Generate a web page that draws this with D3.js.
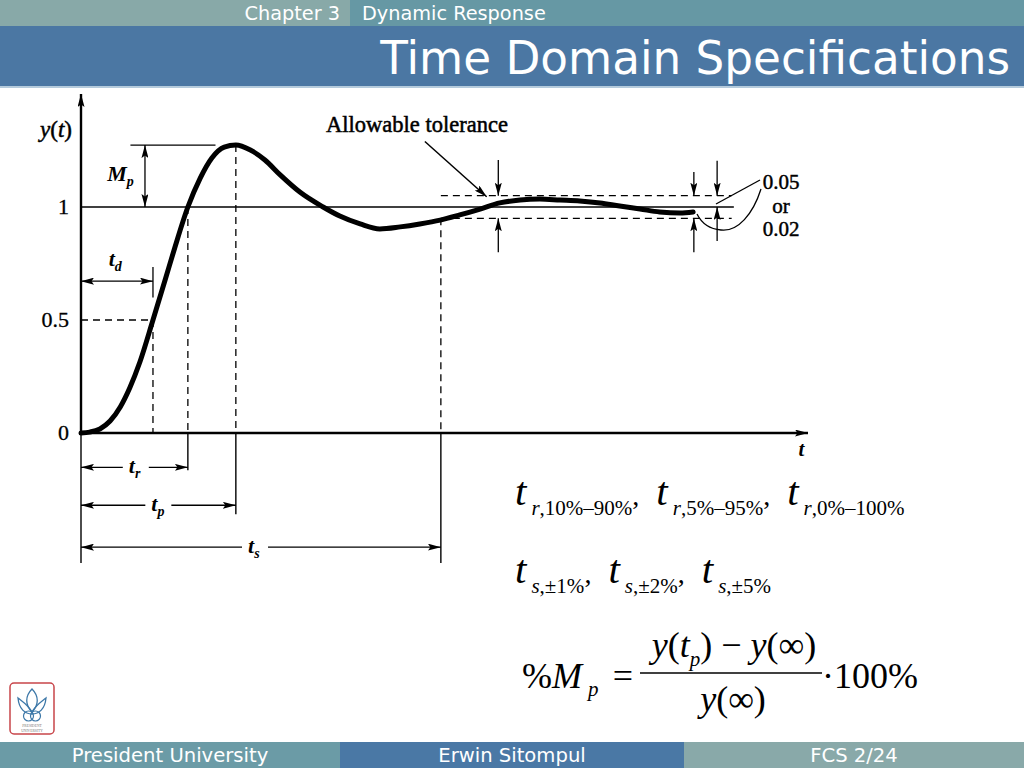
<!DOCTYPE html>
<html><head><meta charset="utf-8">
<script src="https://cdn.jsdelivr.net/npm/d3@7"></script>
<style>html,body{margin:0;padding:0;background:#fff;overflow:hidden}</style>
</head><body><svg id="c" width="1024" height="768"></svg>
<script>
// ---------- data ----------
const timeT = [0,0.12,0.26,0.40,0.54,0.67,0.81,0.99,1.16,1.29,1.47,1.64,1.80,1.97,2.13,2.33,2.53,2.74,3.01,3.33,3.56,3.84,4.11,4.39,4.66,4.94,5.21,5.49,5.76,6.04,6.31,6.59,6.86,7.14,7.41,7.69,7.96,8.24,8.42];
const responseY = [0,0.004,0.018,0.053,0.115,0.199,0.314,0.5,0.68,0.82,1.0,1.128,1.217,1.265,1.274,1.252,1.208,1.142,1.066,1.0,0.960,0.925,0.903,0.912,0.925,0.942,0.965,0.991,1.018,1.031,1.035,1.031,1.027,1.018,1.004,0.991,0.978,0.973,0.978];
const yTickValues = [0, 0.5, 1];
const yTickLabels = ["0", "0.5", "1"];
const specNames = ["td", "tr", "tp", "ts"];
const specTimes = [0.99, 1.47, 2.13, 4.95];
const peakValue = 1.274;
const finalValue = 1;
const toleranceBand = [0.95, 1.05];
const toleranceLabels = ["0.05", "or", "0.02"];
const headerTexts = ["Chapter 3", "Dynamic Response", "Time Domain Specifications"];
const footerTexts = ["President University", "Erwin Sitompul", "FCS 2/24"];

// ---------- setup ----------
const svg = d3.select('#c');
const SERIF = '"Liberation Serif","Times New Roman",serif';
const SANS = '"DejaVu Sans",Verdana,sans-serif';
const spec = {}; specNames.forEach((n,i)=>spec[n]=specTimes[i]);

const x = d3.scaleLinear().domain([0,10]).range([81,808]);
const y = d3.scaleLinear().domain([0,1]).range([433,207]);

const defs = svg.append('defs');
defs.append('marker').attr('id','ah').attr('viewBox','0 0 13 7')
  .attr('refX',13).attr('refY',3.5).attr('markerWidth',13).attr('markerHeight',7)
  .attr('markerUnits','userSpaceOnUse').attr('orient','auto-start-reverse')
  .append('path').attr('d','M0,0 L13,3.5 L0,7 L2.5,3.5 z').attr('fill','#000');

// ---------- header / footer ----------
svg.append('rect').attr('x',0).attr('y',0).attr('width',350).attr('height',26).attr('fill','#88a9a8');
svg.append('rect').attr('x',350).attr('y',0).attr('width',674).attr('height',26).attr('fill','#6698a4');
svg.append('rect').attr('x',0).attr('y',26).attr('width',1024).attr('height',60).attr('fill','#4b77a3');
svg.append('rect').attr('x',0).attr('y',86).attr('width',1024).attr('height',2).attr('fill','#b5cbdc');
svg.append('text').attr('x',340).attr('y',19.5).attr('text-anchor','end').attr('fill','#fff')
  .attr('font-family',SANS).attr('font-size',19.3).text(headerTexts[0]);
svg.append('text').attr('x',362).attr('y',19.5).attr('fill','#fff')
  .attr('font-family',SANS).attr('font-size',19.3).text(headerTexts[1]);
svg.append('text').attr('x',1010).attr('y',74).attr('text-anchor','end').attr('fill','#fff')
  .attr('font-family',SANS).attr('font-size',45.3).text(headerTexts[2]);

const footCols = [['#6b9ba6',0,340],['#4a78a5',340,684],['#89a9a9',684,1024]];
footCols.forEach((c,i)=>{
  svg.append('rect').attr('x',c[1]).attr('y',742).attr('width',c[2]-c[1]).attr('height',26).attr('fill',c[0]);
  svg.append('text').attr('x',(c[1]+c[2])/2).attr('y',762).attr('text-anchor','middle').attr('fill','#fff')
    .attr('font-family',SANS).attr('font-size',19.6).text(footerTexts[i]);
});

// logo
const logo = svg.append('g').attr('transform','translate(8,683)');
logo.append('rect').attr('x',2).attr('y',0).attr('width',44).attr('height',51).attr('rx',4)
  .attr('fill','#fff').attr('stroke','#c8454a').attr('stroke-width',1.5);
const lb = '#3d78a8';
logo.append('path').attr('d','M24,6 C17,13 17,22 24,29 C31,22 31,13 24,6 Z').attr('fill','none').attr('stroke',lb).attr('stroke-width',1.3);
logo.append('path').attr('d','M10,15 C11,26 17,31 24,31 C31,31 37,26 38,15 C33,19 28,22 24,29 C20,22 15,19 10,15 Z').attr('fill','none').attr('stroke',lb).attr('stroke-width',1.3);
logo.append('circle').attr('cx',20.5).attr('cy',33).attr('r',5).attr('fill','none').attr('stroke',lb).attr('stroke-width',1.2);
logo.append('circle').attr('cx',27.5).attr('cy',33).attr('r',5).attr('fill','none').attr('stroke',lb).attr('stroke-width',1.2);
const logoTxt = logo.append('text').attr('text-anchor','middle').attr('font-size',3.6).attr('fill','#777').attr('font-family',SERIF);
logoTxt.append('tspan').attr('x',24).attr('y',44).text('PRESIDENT');
logoTxt.append('tspan').attr('x',24).attr('y',48.5).text('UNIVERSITY');

// ---------- chart ----------
const g = svg.append('g');
function line(x1,y1,x2,y2,opt={}){
  const l = g.append('line').attr('x1',x1).attr('y1',y1).attr('x2',x2).attr('y2',y2)
    .attr('stroke','#000').attr('stroke-width',opt.w||1.3);
  if(opt.dash) l.attr('stroke-dasharray',opt.dash);
  if(opt.end) l.attr('marker-end','url(#ah)');
  if(opt.start) l.attr('marker-start','url(#ah)');
  return l;
}
const DASH = '7,5';

// axes
line(x(0), y(0), x(0), y(1.5), {w:2.4, end:true});
line(x(0), y(0), x(10), y(0), {w:2.6, end:true});
line(x(0), y(0), x(0), y(-0.575), {w:1.4});

// y tick labels
g.selectAll('.ytl').data(yTickValues).enter().append('text')
  .attr('x', (d,i)=> x(0)-12).attr('y', d=>y(d)+7).attr('text-anchor','end')
  .attr('font-family',SERIF).attr('font-size',22).attr('stroke','#000').attr('stroke-width',0.3)
  .text((d,i)=>yTickLabels[i]);

function rich(sel, segs){
  let prev = 0;
  segs.forEach(s=>{
    const t = sel.append('tspan').attr('font-size',s.size).attr('dy',(s.shift||0)-prev).text(s.text);
    if(s.i) t.attr('font-style','italic');
    if(s.dx) t.attr('dx',s.dx);
    prev = s.shift||0;
  });
}
const lbl = (xx,yy,anchor)=>g.append('text').attr('x',xx).attr('y',yy).attr('text-anchor',anchor||'start')
  .attr('font-family',SERIF).attr('font-weight','bold');
rich(lbl(40,137).attr('font-weight','normal').attr('stroke','#000').attr('stroke-width',0.5),
  [{text:'y',size:23,i:1},{text:'(',size:23},{text:'t',size:23,i:1},{text:')',size:23}]);
rich(lbl(x(9.87),y(-0.1)), [{text:'t',size:21,i:1}]);

// reference line y = 1
line(x(0), y(finalValue), x(8.98), y(finalValue), {w:1.3});
// 0.5 dashed
line(x(0), y(0.5), x(spec.td), y(0.5), {dash:DASH});
// vertical dashed lines
line(x(spec.td), y(0.5), x(spec.td), y(0), {dash:DASH});
line(x(spec.tr), y(1), x(spec.tr), y(0), {dash:DASH});
line(x(spec.tp), y(peakValue), x(spec.tp), y(0), {dash:DASH});
line(x(spec.ts), y(toleranceBand[0]), x(spec.ts), y(0), {dash:DASH});
// solid extensions
line(x(spec.tr), y(0), x(spec.tr), y(-0.165), {w:1.4});
line(x(spec.tp), y(0), x(spec.tp), y(-0.36), {w:1.4});
line(x(spec.ts), y(0), x(spec.ts), y(-0.575), {w:1.4});

// horizontal dimension arrows with labels
function dim(t2, level, sub, labelX){
  const yy = y(level);
  const lx = x(labelX);
  line(lx-12, yy, x(0), yy, {w:1.4, end:true});
  line(lx+14, yy, x(t2), yy, {w:1.4, end:true});
  rich(lbl(lx-6, yy+6), [{text:'t',size:22,i:1},{text:sub,size:14,i:1,shift:5}]);
}
dim(spec.tr, -0.152, 'r', 0.74);
dim(spec.tp, -0.32, 'p', 1.05);
dim(spec.ts, -0.505, 's', 2.38);

// td
line(x(spec.td), y(0.735), x(spec.td), y(0.6), {w:1.3});
line(x(0), y(0.672), x(spec.td), y(0.672), {w:1.4, start:true, end:true});
rich(lbl(x(0.38), y(0.74)), [{text:'t',size:22,i:1},{text:'d',size:14,i:1,shift:5}]);

// Mp
line(x(0.68), y(peakValue), x(1.85), y(peakValue), {w:1.4});
line(x(0.88), y(peakValue), x(0.88), y(finalValue), {w:1.3, start:true, end:true});
rich(lbl(x(0.36), y(1.115)), [{text:'M',size:22,i:1},{text:'p',size:14,i:1,shift:5}]);

// tolerance band dashed lines
toleranceBand.forEach(v=> line(x(spec.ts), y(v), x(8.95), y(v), {dash:DASH}));

// vertical arrows
[[5.74,1.208,0.80],[8.43,1.155,0.80]].forEach(a=>{
  line(x(a[0]), y(a[1]), x(a[0]), y(toleranceBand[1]), {w:1.3, end:true});
  line(x(a[0]), y(a[2]), x(a[0]), y(toleranceBand[0]), {w:1.3, end:true});
});
line(x(8.75), y(1.205), x(8.75), y(toleranceBand[1]), {w:1.3, end:true});
line(x(8.75), y(0.85), x(8.75), y(finalValue), {w:1.3, end:true});

// response curve
const curve = d3.line().x((d,i)=>x(timeT[i])).y(d=>y(d)).curve(d3.curveMonotoneX);
g.append('path').datum(responseY).attr('d',curve).attr('fill','none')
  .attr('stroke','#000').attr('stroke-width',5).attr('stroke-linecap','round');

// allowable tolerance
g.append('text').attr('x',417).attr('y',132).attr('text-anchor','middle')
  .attr('font-family',SERIF).attr('font-size',22.5).attr('stroke','#000').attr('stroke-width',0.5)
  .text('Allowable tolerance');
line(x(4.73), y(1.29), x(5.58), y(1.05)+1, {w:1.5, end:true});

// 0.05 or 0.02
toleranceLabels.forEach((t,i)=>{
  g.append('text').attr('x',781).attr('y',189+i*23.5).attr('text-anchor','middle')
    .attr('font-family',SERIF).attr('font-size',21).attr('stroke','#000').attr('stroke-width',0.45).text(t);
});
line(760,180,716,204,{w:1.3});
g.append('path').attr('d','M761,189 C753,214 738,232 721,230 C709,229 701,222 697,214')
  .attr('fill','none').attr('stroke','#000').attr('stroke-width',1.3);

// ---------- formulas ----------
const F = (xx,yy,anchor)=>svg.append('text').attr('x',xx).attr('y',yy).attr('text-anchor',anchor||'start').attr('font-family',SERIF);
const row1 = [['r',',10%–90%'],['r',',5%–95%'],['r',',0%–100%']];
const row2 = [['s',',±1%'],['s',',±2%'],['s',',±5%']];
function rowSegs(items){
  const segs = [];
  items.forEach((it,k)=>{
    segs.push({text:'t',size:41,i:1,shift:0, dx: k? 10:0});
    segs.push({text:it[0],size:21,i:1,shift:10,dx:5});
    segs.push({text:it[1],size:21,shift:10});
    if(k<items.length-1) segs.push({text:', ',size:28,shift:0});
  });
  return segs;
}
rich(F(515,505), rowSegs(row1));
rich(F(515,583), rowSegs(row2));

rich(F(522,688), [{text:'%',size:36},{text:'M',size:36,i:1},{text:'p',size:21,i:1,shift:8,dx:6}]);
F(623,688,'middle').attr('font-size',36).text('=');
svg.append('line').attr('x1',640).attr('x2',822).attr('y1',673).attr('y2',673).attr('stroke','#000').attr('stroke-width',1.6);
rich(F(734,657,'middle'), [{text:'y',size:36,i:1},{text:'(',size:36},{text:'t',size:36,i:1},{text:'p',size:21,i:1,shift:9},{text:')',size:36},{text:' − ',size:36},{text:'y',size:36,i:1},{text:'(∞)',size:36}]);
rich(F(733,711,'middle'), [{text:'y',size:36,i:1},{text:'(∞)',size:36}]);
F(822,688).attr('font-size',36).text('·100%');
</script></body></html>
